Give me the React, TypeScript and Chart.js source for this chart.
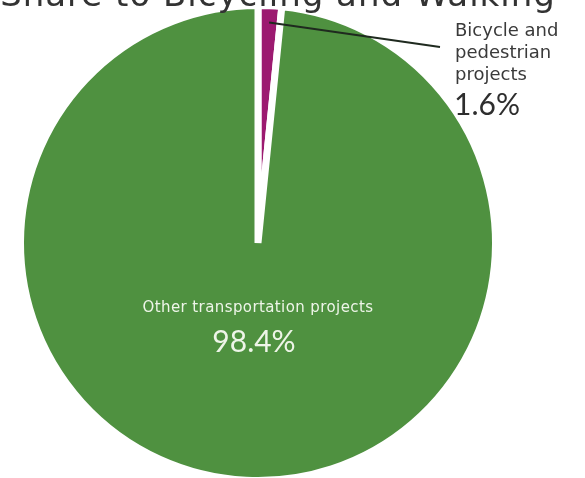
import React, { useEffect, useRef } from "react";
import { Chart, registerables } from "chart.js";

Chart.register(...registerables);

const categories = ["Bicycle and pedestrian projects", "Other transportation projects"];
const shares = [1.6, 98.4];
const sliceColors = ["#9c1a70", "#4f9140"];
const titleText = "Share to Bicycling and Walking";
const bikeLabelLines = ["Bicycle and", "pedestrian", "projects"];
const otherLabel = "Other transportation projects";

const labelsPlugin = {
  id: "customLabels",
  afterDraw(chart: any) {
    const ctx = chart.ctx as CanvasRenderingContext2D & { letterSpacing?: string };
    const meta = chart.getDatasetMeta(0);
    const arc0: any = meta.data[0];
    const arc1: any = meta.data[1];
    ctx.save();

    // Title (mostly cut off at the top)
    ctx.fillStyle = "#333333";
    ctx.textBaseline = "alphabetic";
    ctx.textAlign = "center";
    ctx.font = "34px 'DejaVu Sans'";
    ctx.letterSpacing = "1px";
    ctx.fillText(titleText, 278, 6);
    ctx.letterSpacing = "0px";

    // Leader line from the small slice
    const p0 = arc0.getProps(["x", "y", "startAngle", "endAngle", "outerRadius"], true);
    const mid = (p0.startAngle + p0.endAngle) / 2;
    const r = p0.outerRadius * 0.93;
    const sx = p0.x + Math.cos(mid) * r;
    const sy = p0.y + Math.sin(mid) * r;
    ctx.strokeStyle = "#1f2a1f";
    ctx.lineWidth = 2;
    ctx.beginPath();
    ctx.moveTo(sx, sy);
    ctx.lineTo(440, 47);
    ctx.stroke();

    // Bike label
    ctx.textAlign = "left";
    ctx.fillStyle = "#3a3a3a";
    ctx.font = "18px 'DejaVu Sans'";
    bikeLabelLines.forEach((t, i) => ctx.fillText(t, 455, 36 + i * 22));
    ctx.fillStyle = "#2e2e2e";
    ctx.font = "30px Lato";
    ctx.fillText(shares[0].toFixed(1) + "%", 454, 115);

    // Other label
    const p1 = arc1.getProps(["x", "y"], true);
    ctx.textAlign = "center";
    ctx.fillStyle = "#eef5e8";
    ctx.font = "15px 'DejaVu Sans'";
    ctx.letterSpacing = "0.4px";
    ctx.fillText(otherLabel, p1.x, 312);
    ctx.letterSpacing = "0px";
    ctx.font = "30px Lato";
    ctx.fillText(shares[1].toFixed(1) + "%", p1.x - 4, 352);

    ctx.restore();
  },
};

export default function App() {
  const ref = useRef<HTMLCanvasElement>(null);
  useEffect(() => {
    if (!ref.current) return;
    const chart = new Chart(ref.current, {
      type: "pie",
      data: {
        labels: categories,
        datasets: [
          {
            data: shares,
            backgroundColor: sliceColors,
            borderColor: "#ffffff",
            borderWidth: 7,
          },
        ],
      },
      options: {
        responsive: false,
        animation: false,
        layout: { padding: { left: 17, right: 86, top: 2, bottom: 6 } },
        plugins: {
          legend: { display: false },
          tooltip: { enabled: false },
          title: { display: false },
        },
      },
      plugins: [labelsPlugin],
    });
    return () => chart.destroy();
  }, []);
  return (
    <div style={{ position: "absolute", left: 0, top: 0, width: 585, height: 478, overflow: "hidden", background: "#fff" }}>
      <canvas ref={ref} width={585} height={490} style={{ display: "block" }} />
    </div>
  );
}
